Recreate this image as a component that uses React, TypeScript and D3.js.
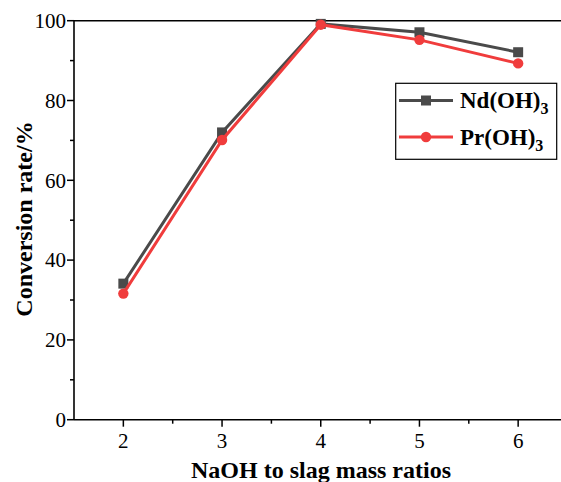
import React from "react";
import * as d3 from "d3";

const ratios = [2, 3, 4, 5, 6];
const ndValues = [34.1, 72.0, 99.2, 97.1, 92.1];
const prValues = [31.6, 70.1, 99.0, 95.2, 89.3];
const yTicks = [0, 20, 40, 60, 80, 100];
const yMinor = [10, 30, 50, 70, 90];
const xTicks = [2, 3, 4, 5, 6];
const xMinor = [2.5, 3.5, 4.5, 5.5];

const W = 561;
const H = 482;
const FONT = "'Liberation Serif'";
const ND = "#4a4a4a";
const PR = "#f03c3c";
const ts = { fontFamily: FONT };

export default function App() {
  const x = d3.scaleLinear().domain([1.5, 6.5]).range([74, 567.5]);
  const y = d3.scaleLinear().domain([0, 100]).range([419.7, 20.7]);
  const line = d3
    .line<[number, number]>()
    .x((d) => x(d[0]))
    .y((d) => y(d[1]));
  const nd: [number, number][] = ratios.map((r, i) => [r, ndValues[i]]);
  const pr: [number, number][] = ratios.map((r, i) => [r, prValues[i]]);
  const x0 = x.range()[0];
  const y0 = y.range()[0];
  const yTop = y.range()[1];

  return (
    <svg
      width={W}
      height={H}
      style={{ position: "absolute", left: 0, top: 0, background: "#fff" }}
    >
      <rect width={W} height={H} fill="#fff" />
      <line x1={x0} x2={W} y1={yTop} y2={yTop} stroke="#000" strokeWidth={1.6} />
      <line x1={x0} x2={x0} y1={yTop} y2={y0} stroke="#000" strokeWidth={1.6} />
      <line x1={x0} x2={W} y1={y0} y2={y0} stroke="#000" strokeWidth={1.6} />
      {yTicks.map((t) => (
        <g key={"y" + t}>
          <line x1={x0 - 7} x2={x0} y1={y(t)} y2={y(t)} stroke="#000" strokeWidth={1.5} />
          <text x={x0 - 8} y={y(t)} dy="0.35em" textAnchor="end" fontSize={21} style={ts}>
            {t}
          </text>
        </g>
      ))}
      {yMinor.map((t) => (
        <line key={"ym" + t} x1={x0 - 4} x2={x0} y1={y(t)} y2={y(t)} stroke="#000" strokeWidth={1.5} />
      ))}
      {xTicks.map((t) => (
        <g key={"x" + t}>
          <line x1={x(t)} x2={x(t)} y1={y0} y2={y0 + 7} stroke="#000" strokeWidth={1.5} />
          <text x={x(t)} y={448} textAnchor="middle" fontSize={21} style={ts}>
            {t}
          </text>
        </g>
      ))}
      {xMinor.map((t) => (
        <line key={"xm" + t} x1={x(t)} x2={x(t)} y1={y0} y2={y0 + 4} stroke="#000" strokeWidth={1.5} />
      ))}
      <text
        transform={`translate(32,219) rotate(-90)`}
        textAnchor="middle"
        fontSize={24}
        fontWeight="bold"
        style={ts}
      >
        Conversion rate/%
      </text>
      <text x={321} y={478} textAnchor="middle" fontSize={24} fontWeight="bold" style={ts}>
        NaOH to slag mass ratios
      </text>
      <path d={line(nd) || ""} fill="none" stroke={ND} strokeWidth={3} />
      {nd.map((d, i) => (
        <rect key={"nd" + i} x={x(d[0]) - 5} y={y(d[1]) - 5} width={10} height={10} fill={ND} />
      ))}
      <path d={line(pr) || ""} fill="none" stroke={PR} strokeWidth={3} />
      {pr.map((d, i) => (
        <circle key={"pr" + i} cx={x(d[0])} cy={y(d[1])} r={5.2} fill={PR} />
      ))}
      <rect x={395.7} y={83.3} width={161} height={76} fill="#fff" stroke="#000" strokeWidth={1.2} />
      <line x1={399} x2={453} y1={100.5} y2={100.5} stroke={ND} strokeWidth={3} />
      <rect x={421} y={95.5} width={10} height={10} fill={ND} />
      <text x={460} y={108} fontSize={23} fontWeight="bold" style={ts}>
        Nd(OH)<tspan fontSize={16} dy={6}>3</tspan>
      </text>
      <line x1={399} x2={453} y1={137} y2={137} stroke={PR} strokeWidth={3} />
      <circle cx={426} cy={137} r={5.2} fill={PR} />
      <text x={460} y={145} fontSize={23} fontWeight="bold" style={ts}>
        Pr(OH)<tspan fontSize={16} dy={6}>3</tspan>
      </text>
    </svg>
  );
}
